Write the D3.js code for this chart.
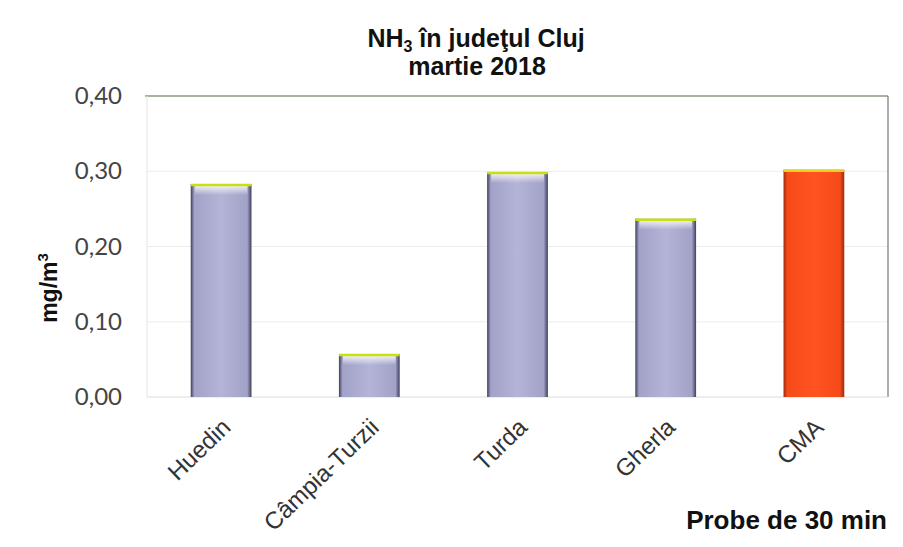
<!DOCTYPE html>
<html>
<head>
<meta charset="utf-8">
<script src="https://cdn.jsdelivr.net/npm/d3@7"></script>
<style>
  body { margin: 0; background: #fff; }
  svg { display: block; }
</style>
</head>
<body>
<div id="chart"></div>
<script>
const categories = ['Huedin', 'Câmpia-Turzii', 'Turda', 'Gherla', 'CMA'];
const values = [0.283, 0.057, 0.299, 0.237, 0.302];
const yTicks = [0, 0.1, 0.2, 0.3, 0.4];

const width = 903;
const height = 547;
const margin = { top: 96, right: 15, bottom: 150, left: 147 };

const svg = d3.select('#chart').append('svg')
  .attr('width', width)
  .attr('height', height);

const defs = svg.append('defs');

function barGradient(id, edge, mid, light) {
  const g = defs.append('linearGradient').attr('id', id)
    .attr('x1', '0%').attr('x2', '100%').attr('y1', '0%').attr('y2', '0%');
  g.append('stop').attr('offset', '0%').attr('stop-color', edge);
  g.append('stop').attr('offset', '6%').attr('stop-color', mid);
  g.append('stop').attr('offset', '50%').attr('stop-color', light);
  g.append('stop').attr('offset', '93%').attr('stop-color', mid);
  g.append('stop').attr('offset', '100%').attr('stop-color', edge);
}
barGradient('gradBlue', '#3e3e5c', '#a2a2c8', '#b4b4d8');
barGradient('gradRed', '#9a2a0c', '#f64a1a', '#ff5320');

const shine = defs.append('linearGradient').attr('id', 'shine')
  .attr('x1', '0%').attr('x2', '0%').attr('y1', '0%').attr('y2', '100%');
shine.append('stop').attr('offset', '0%').attr('stop-color', '#fff').attr('stop-opacity', 0.9);
shine.append('stop').attr('offset', '100%').attr('stop-color', '#fff').attr('stop-opacity', 0);

const x = d3.scaleBand()
  .domain(categories)
  .range([margin.left, width - margin.right])
  .paddingInner(0.59)
  .paddingOuter(0.295);

const y = d3.scaleLinear()
  .domain([0, 0.4])
  .range([height - margin.bottom, margin.top]);

// gridlines
svg.append('g')
  .selectAll('line')
  .data(yTicks.slice(1, -1))
  .join('line')
  .attr('x1', margin.left)
  .attr('x2', width - margin.right)
  .attr('y1', d => y(d))
  .attr('y2', d => y(d))
  .attr('stroke', '#ececec')
  .attr('stroke-width', 1);

// plot frame
svg.append('line')
  .attr('x1', margin.left - 2).attr('x2', width - margin.right)
  .attr('y1', y(0.4)).attr('y2', y(0.4))
  .attr('stroke', '#8a9a80').attr('stroke-width', 1.5);
svg.append('line')
  .attr('x1', width - margin.right).attr('x2', width - margin.right)
  .attr('y1', y(0.4)).attr('y2', y(0))
  .attr('stroke', '#777').attr('stroke-width', 1.2);
svg.append('line')
  .attr('x1', margin.left).attr('x2', margin.left)
  .attr('y1', y(0.4)).attr('y2', y(0))
  .attr('stroke', '#e4e4e4');
svg.append('line')
  .attr('x1', margin.left).attr('x2', width - margin.right)
  .attr('y1', y(0)).attr('y2', y(0))
  .attr('stroke', '#dcdcdc');

// y axis
const yAxis = svg.append('g')
  .attr('transform', `translate(${margin.left},0)`)
  .call(d3.axisLeft(y).tickValues(yTicks).tickSize(0).tickPadding(25)
    .tickFormat(d => d3.format('.2f')(d).replace('.', ',')));
yAxis.select('.domain').remove();
yAxis.selectAll('text')
  .attr('font-family', 'Lato, sans-serif')
  .attr('font-size', 24)
  .attr('fill', '#444');

// bars
const bars = svg.append('g')
  .selectAll('g')
  .data(categories.map((c, i) => ({ c, v: values[i] })))
  .join('g');

bars.append('rect')
  .attr('x', d => x(d.c))
  .attr('y', d => y(d.v))
  .attr('width', x.bandwidth())
  .attr('height', d => y(0) - y(d.v))
  .attr('fill', d => d.c === 'CMA' ? 'url(#gradRed)' : 'url(#gradBlue)');

bars.filter(d => d.c !== 'CMA').append('rect')
  .attr('x', d => x(d.c) + 4)
  .attr('y', d => y(d.v) + 1)
  .attr('width', x.bandwidth() - 8)
  .attr('height', 10)
  .attr('fill', 'url(#shine)');

bars.append('line')
  .attr('x1', d => x(d.c))
  .attr('x2', d => x(d.c) + x.bandwidth())
  .attr('y1', d => y(d.v) + 1)
  .attr('y2', d => y(d.v) + 1)
  .attr('stroke', d => d.c === 'CMA' ? '#e8d020' : '#c8e010')
  .attr('stroke-width', 2.5);

// x labels
svg.append('g')
  .selectAll('text')
  .data(categories)
  .join('text')
  .attr('transform', d => `translate(${x(d) + x.bandwidth() / 2 + 11},${y(0) + 32}) rotate(-44)`)
  .attr('text-anchor', 'end')
  .attr('font-family', 'Liberation Sans, Arial, sans-serif')
  .attr('font-size', 24)
  .attr('fill', '#333')
  .text(d => d);

// title
const title = svg.append('text')
  .attr('x', 476)
  .attr('y', 47)
  .attr('text-anchor', 'middle')
  .attr('font-family', 'Liberation Sans, Arial, sans-serif')
  .attr('font-weight', 'bold')
  .attr('font-size', 25)
  .attr('fill', '#111');
title.append('tspan').text('NH');
title.append('tspan').attr('font-size', 16).attr('dy', 5).text('3');
title.append('tspan').attr('dy', -5).text(' în judeţul Cluj');

svg.append('text')
  .attr('x', 477)
  .attr('y', 75)
  .attr('text-anchor', 'middle')
  .attr('font-family', 'Liberation Sans, Arial, sans-serif')
  .attr('font-weight', 'bold')
  .attr('font-size', 25)
  .attr('fill', '#111')
  .text('martie 2018');

// y axis title
const yTitle = svg.append('text')
  .attr('transform', `translate(57,288) rotate(-90)`)
  .attr('text-anchor', 'middle')
  .attr('font-family', 'Liberation Sans, Arial, sans-serif')
  .attr('font-weight', 'bold')
  .attr('font-size', 23)
  .attr('fill', '#111');
yTitle.append('tspan').text('mg/m');
yTitle.append('tspan').attr('font-size', 15).attr('dy', -9).text('3');

// x axis title
svg.append('text')
  .attr('x', 887)
  .attr('y', 529)
  .attr('text-anchor', 'end')
  .attr('font-family', 'Liberation Sans, Arial, sans-serif')
  .attr('font-weight', 'bold')
  .attr('font-size', 26)
  .attr('fill', '#111')
  .text('Probe de 30 min');
</script>
</body>
</html>
